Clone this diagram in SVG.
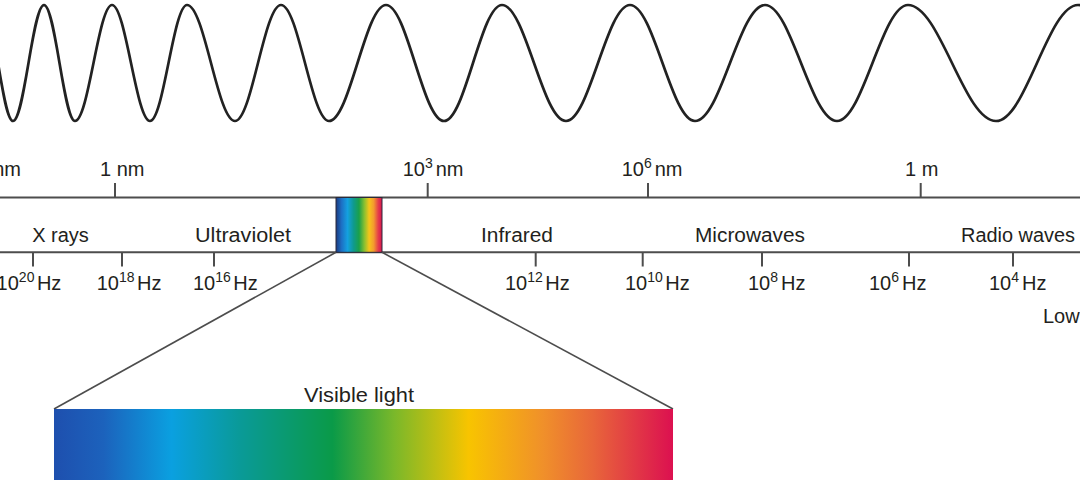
<svg xmlns="http://www.w3.org/2000/svg" width="1080" height="480" viewBox="0 0 1080 480">
  <defs>
    <linearGradient id="visGrad" x1="0" y1="0" x2="1" y2="0">
      <stop offset="0" stop-color="#1e4fae"/>
      <stop offset="0.08" stop-color="#1c62bc"/>
      <stop offset="0.19" stop-color="#0aa0e0"/>
      <stop offset="0.30" stop-color="#0a9a98"/>
      <stop offset="0.45" stop-color="#0a9a48"/>
      <stop offset="0.55" stop-color="#7ab82a"/>
      <stop offset="0.67" stop-color="#f8c400"/>
      <stop offset="0.79" stop-color="#f0902a"/>
      <stop offset="0.87" stop-color="#e8663a"/>
      <stop offset="1" stop-color="#dc1050"/>
    </linearGradient>
    <linearGradient id="boxGrad" x1="0" y1="0" x2="1" y2="0">
      <stop offset="0" stop-color="#1b3a80"/>
      <stop offset="0.12" stop-color="#1d6fc4"/>
      <stop offset="0.25" stop-color="#14a0e0"/>
      <stop offset="0.38" stop-color="#0f9a8f"/>
      <stop offset="0.5" stop-color="#1aa04a"/>
      <stop offset="0.62" stop-color="#8cc030"/>
      <stop offset="0.72" stop-color="#f5c51a"/>
      <stop offset="0.82" stop-color="#f39a2e"/>
      <stop offset="0.92" stop-color="#e43c4a"/>
      <stop offset="1" stop-color="#d81450"/>
    </linearGradient>
    <style>
      text { font-family: "Liberation Sans", Arial, sans-serif; font-size: 20px; fill: #231f20; }
      .axis { stroke: #4d4d4d; stroke-width: 2; fill: none; }
      .tick { stroke: #4d4d4d; stroke-width: 2; }
      .conn { stroke: #4d4d4d; stroke-width: 1.6; fill: none; }
      .wave { stroke: #222; stroke-width: 2.7; fill: none; }
      .sup { font-size: 14px; }
    </style>
  </defs>
  <rect width="1080" height="480" fill="#ffffff"/>

  <g id="wave">
    <path class="wave" d="M -17,5 C -6.1,5 2.1,121 13,121 C 24.3,121 32.7,5 44,5 C 55.3,5 63.7,121 75,121 C 88.5,121 98.5,5 112,5 C 125.8,5 136.2,121 150,121 C 163.5,121 173.5,5 187,5 C 204.5,5 217.5,121 235,121 C 251.7,121 264.3,5 281,5 C 298.5,5 311.5,121 329,121 C 349.7,121 365.3,5 386,5 C 407.1,5 422.9,121 444,121 C 465.1,121 480.9,5 502,5 C 525.3,5 542.7,121 566,121 C 589.3,121 606.7,5 630,5 C 653.7,5 671.3,121 695,121 C 720.5,121 739.5,5 765,5 C 791.2,5 810.8,121 837,121 C 862.8,121 882.2,5 908,5 C 940,5 964,121 996,121 C 1025.8,121 1048.2,5 1078,5 C 1107.8,5 1130.2,121 1160,121"/>
  </g>

  <g id="axis">
    <line class="axis" x1="0" y1="197.5" x2="1080" y2="197.5"/>
    <line class="axis" x1="0" y1="252.3" x2="1080" y2="252.3"/>
    <line class="tick" x1="115" y1="183" x2="115" y2="197.5"/>
    <line class="tick" x1="427.7" y1="183" x2="427.7" y2="197.5"/>
    <line class="tick" x1="648" y1="183" x2="648" y2="197.5"/>
    <line class="tick" x1="920.7" y1="183" x2="920.7" y2="197.5"/>
    <line class="tick" x1="33" y1="252.3" x2="33" y2="266.5"/>
    <line class="tick" x1="122" y1="252.3" x2="122" y2="266.5"/>
    <line class="tick" x1="214" y1="252.3" x2="214" y2="266.5"/>
    <line class="tick" x1="535.7" y1="252.3" x2="535.7" y2="266.5"/>
    <line class="tick" x1="642.7" y1="252.3" x2="642.7" y2="266.5"/>
    <line class="tick" x1="762" y1="252.3" x2="762" y2="266.5"/>
    <line class="tick" x1="909" y1="252.3" x2="909" y2="266.5"/>
    <line class="tick" x1="1013" y1="252.3" x2="1013" y2="266.5"/>
  </g>

  <g id="wavelength-labels">
    <text x="21" y="176" text-anchor="end">nm</text>
    <text x="100" y="176">1 nm</text>
    <text x="402.7" y="176">10<tspan class="sup" dy="-8">3</tspan><tspan dy="8" dx="3">nm</tspan></text>
    <text x="621.7" y="176">10<tspan class="sup" dy="-8">6</tspan><tspan dy="8" dx="3">nm</tspan></text>
    <text x="905" y="176">1 m</text>
  </g>

  <g id="band-labels">
    <text x="60.5" y="242" text-anchor="middle">X rays</text>
    <text x="243" y="242" text-anchor="middle" textLength="96" lengthAdjust="spacingAndGlyphs">Ultraviolet</text>
    <text x="517" y="242" text-anchor="middle" textLength="72" lengthAdjust="spacingAndGlyphs">Infrared</text>
    <text x="750" y="242" text-anchor="middle" textLength="110" lengthAdjust="spacingAndGlyphs">Microwaves</text>
    <text x="1018" y="242" text-anchor="middle" textLength="114" lengthAdjust="spacingAndGlyphs">Radio waves</text>
  </g>

  <g id="frequency-labels">
    <text x="-3.4" y="290">10<tspan class="sup" dy="-8">20</tspan><tspan dy="8" dx="2.5">Hz</tspan></text>
    <text x="96.7" y="290">10<tspan class="sup" dy="-8">18</tspan><tspan dy="8" dx="2.5">Hz</tspan></text>
    <text x="193" y="290">10<tspan class="sup" dy="-8">16</tspan><tspan dy="8" dx="2.5">Hz</tspan></text>
    <text x="505" y="290">10<tspan class="sup" dy="-8">12</tspan><tspan dy="8" dx="2.5">Hz</tspan></text>
    <text x="625" y="290">10<tspan class="sup" dy="-8">10</tspan><tspan dy="8" dx="2.5">Hz</tspan></text>
    <text x="748" y="290">10<tspan class="sup" dy="-8">8</tspan><tspan dy="8" dx="3">Hz</tspan></text>
    <text x="869" y="290">10<tspan class="sup" dy="-8">6</tspan><tspan dy="8" dx="3">Hz</tspan></text>
    <text x="989" y="290">10<tspan class="sup" dy="-8">4</tspan><tspan dy="8" dx="3">Hz</tspan></text>
    <text x="1043" y="323">Low</text>
  </g>

  <g id="visible-band">
    <rect x="336" y="197.5" width="46" height="54.8" fill="url(#boxGrad)" stroke="#2a2a3a" stroke-width="1"/>
  </g>

  <g id="connectors">
    <line class="conn" x1="336" y1="252.3" x2="54" y2="409"/>
    <line class="conn" x1="382" y1="252.3" x2="673" y2="409"/>
  </g>

  <g id="visible-light">
    <rect x="54" y="409" width="619" height="80" fill="url(#visGrad)"/>
    <text x="359" y="402" text-anchor="middle" textLength="110" lengthAdjust="spacingAndGlyphs">Visible light</text>
  </g>
</svg>
